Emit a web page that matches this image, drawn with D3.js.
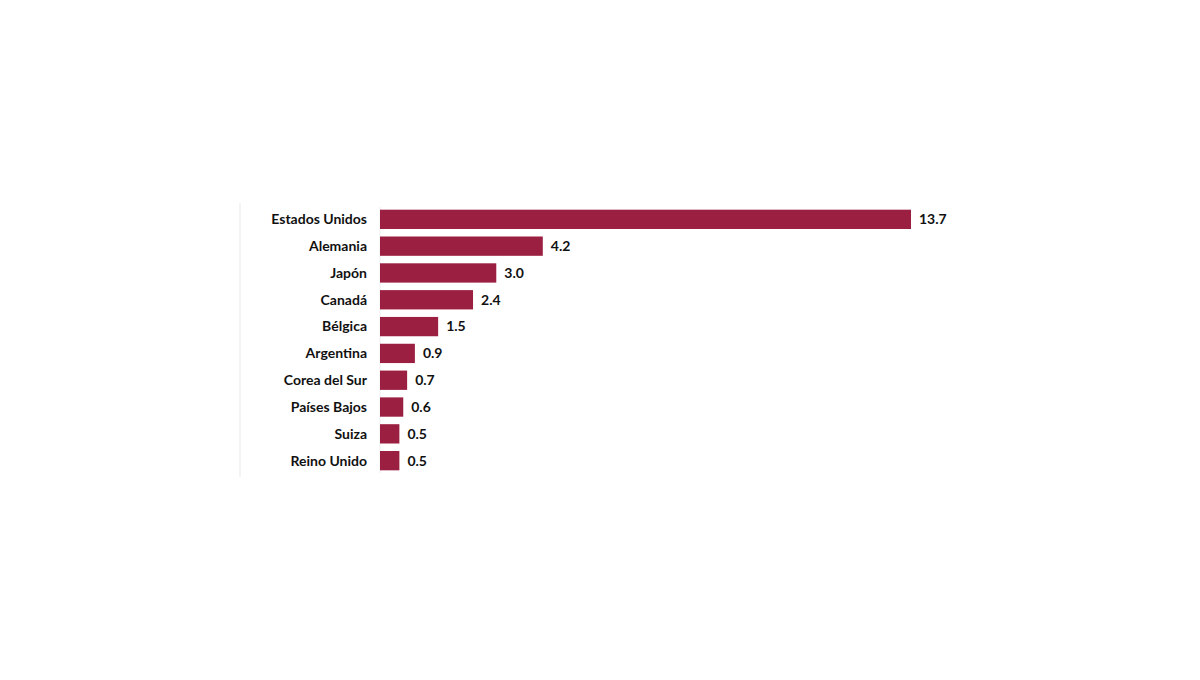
<!DOCTYPE html>
<html><head><meta charset="utf-8">
<script src="https://cdn.jsdelivr.net/npm/d3@7"></script>
<style>body{margin:0;background:#fff}</style>
</head><body>
<svg id="chart" width="1200" height="680"></svg>
<script>
// Country values
const countries = ["Estados Unidos","Alemania","Japón","Canadá","Bélgica","Argentina","Corea del Sur","Países Bajos","Suiza","Reino Unido"];
const values = [13.7,4.2,3.0,2.4,1.5,0.9,0.7,0.6,0.5,0.5];

const svg = d3.select("#chart");
const x = d3.scaleLinear().domain([0, 13.7]).range([380, 911]);
const y = d3.scaleBand().domain(countries).range([207, 473]).paddingInner(0.28).paddingOuter(0.1);

// faint frame lines
svg.append("line").attr("x1", 240).attr("x2", 240).attr("y1", 203).attr("y2", 477)
    .attr("stroke", "#f0f0f0").attr("stroke-width", 1.5);
svg.append("line").attr("x1", 380).attr("x2", 380).attr("y1", 207).attr("y2", 473)
    .attr("stroke", "#eeeeee");

svg.selectAll("rect").data(countries).enter().append("rect")
    .attr("x", x(0))
    .attr("y", d => y(d))
    .attr("width", (d, i) => x(values[i]) - x(0))
    .attr("height", y.bandwidth())
    .attr("fill", "#9b1f41");

svg.selectAll(".lbl").data(countries).enter().append("text")
    .attr("x", 367).attr("y", d => y(d) + y.bandwidth() / 2)
    .attr("dy", "0.35em").attr("text-anchor", "end")
    .style("font", "bold 14px Lato, 'Open Sans', sans-serif").attr("fill", "#111")
    .text(d => d);

svg.selectAll(".val").data(countries).enter().append("text")
    .attr("x", (d, i) => x(values[i]) + 8).attr("y", d => y(d) + y.bandwidth() / 2)
    .attr("dy", "0.35em")
    .style("font", "bold 14px Lato, 'Open Sans', sans-serif").attr("fill", "#111")
    .text((d, i) => values[i].toFixed(1));
</script>
</body></html>
